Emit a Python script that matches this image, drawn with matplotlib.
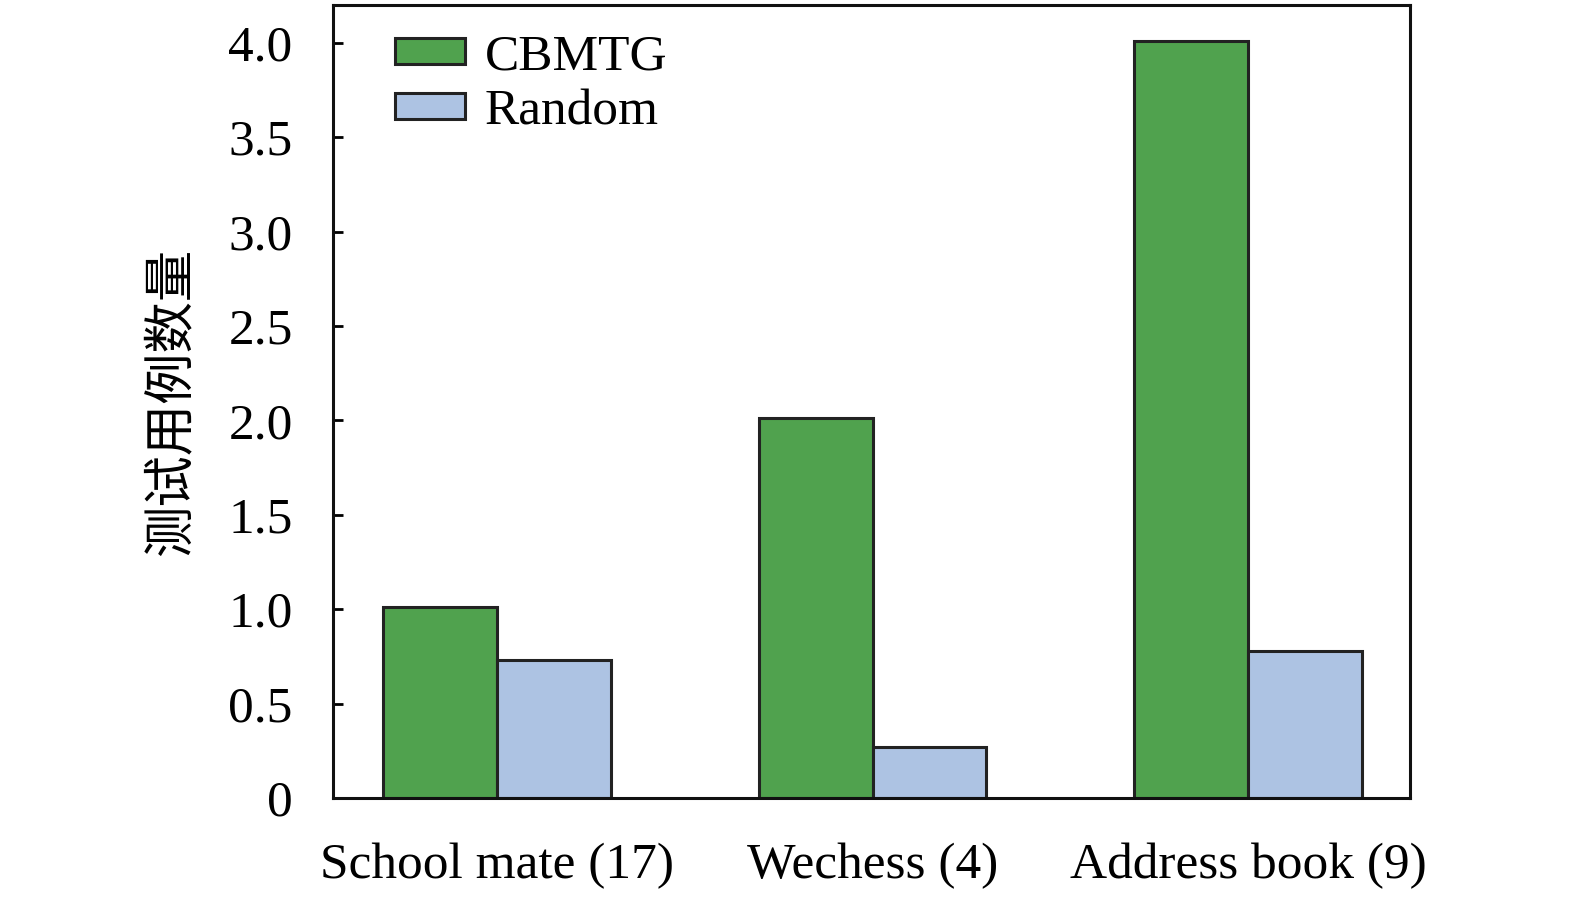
import matplotlib
matplotlib.use("Agg")
import matplotlib.pyplot as plt
import numpy as np

categories = ["School mate (17)", "Wechess (4)", "Address book (9)"]
cbmtg = [1.01, 2.01, 4.01]
random_vals = [0.73, 0.27, 0.78]
series_names = ["CBMTG", "Random"]
yticks = [0, 0.5, 1.0, 1.5, 2.0, 2.5, 3.0, 3.5, 4.0]
ytick_labels = ["0", "0.5", "1.0", "1.5", "2.0", "2.5", "3.0", "3.5", "4.0"]
ylabel = "测试用例数量"

plt.rcParams['font.family'] = ['Liberation Serif', 'Noto Sans CJK SC']

fig = plt.figure(figsize=(15.75, 9.02), dpi=100)
ax = fig.add_axes([0.2114, 0.1153, 0.6838, 0.8792])

x = np.arange(len(categories))
w = 0.303
edge = '#222222'
ax.bar(x - w/2, cbmtg, w, color='#50a24e', edgecolor=edge, linewidth=2.2, label=series_names[0])
ax.bar(x + w/2, random_vals, w, color='#adc3e3', edgecolor=edge, linewidth=2.2, label=series_names[1])

ax.set_xlim(-0.437, 2.431)
ax.set_ylim(0, 4.2)
ax.set_xticks(x)
ax.set_xticklabels(categories, fontsize=37)
ax.set_yticks(yticks)
ax.set_yticklabels(ytick_labels, fontsize=37)
ax.tick_params(axis='x', length=0, pad=32)
ax.tick_params(axis='y', direction='in', length=7, width=2, pad=29)
for s in ax.spines.values():
    s.set_linewidth(2.2)
    s.set_color('#111111')

ax.set_ylabel(ylabel, fontsize=37, family=['Noto Sans CJK SC'], labelpad=22)

leg = ax.legend(loc='upper left', frameon=False, fontsize=37, handlelength=1.36, handleheight=0.4,
                handletextpad=0.39, labelspacing=0.16, borderaxespad=0.0, borderpad=0.0,
                bbox_to_anchor=(0.0576, 0.963))

fig.savefig("out.png", dpi=100)
